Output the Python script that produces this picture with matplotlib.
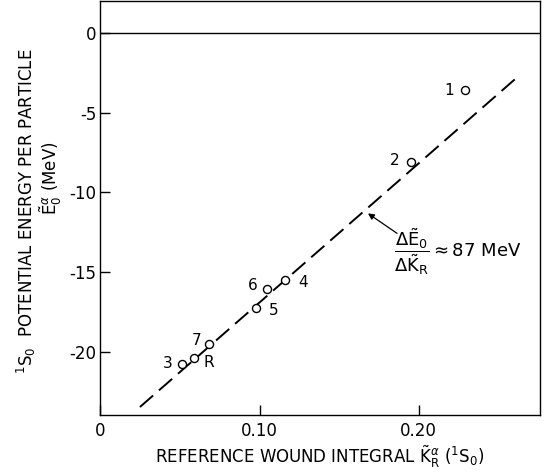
import matplotlib
matplotlib.use("Agg")
import matplotlib.pyplot as plt
from matplotlib.ticker import FixedLocator, FixedFormatter

plt.rcParams['font.family'] = ['DejaVu Sans']
plt.rcParams['mathtext.fontset'] = 'dejavusans'
plt.rcParams['axes.unicode_minus'] = False

# data
labels = ['1', '2', '4', '6', '5', '7', 'R', '3']
k_vals = [0.229, 0.195, 0.116, 0.105, 0.098, 0.068, 0.059, 0.051]
e_vals = [-3.6, -8.1, -15.5, -16.05, -17.25, -19.5, -20.4, -20.75]
label_offsets = [(-15, 0), (-16, 2), (18, -2), (-15, 4), (17, -2), (-12, 4), (15, -4), (-14, 1)]

fit_k = [0.0248, 0.2638]
fit_e = [-23.44, -2.63]

x_ticks = [0.0, 0.10, 0.20]
x_ticklabels = ['0', '0.10', '0.20']
y_ticks = [0, -5, -10, -15, -20]
y_ticklabels = ['0', '-5', '-10', '-15', '-20']

fig = plt.figure(figsize=(5.45, 4.74), dpi=100)
ax = fig.add_axes([0.1844, 0.1245, 0.8064, 0.8735])
ax.set_xlim(0, 0.2764)
ax.set_ylim(-23.94, 2.0)

ax.axhline(0, color='black', lw=1.0)
ax.plot(fit_k, fit_e, color='black', lw=1.4, dashes=(9, 4))
ax.plot(k_vals, e_vals, 'o', mfc='white', mec='black', ms=5.8, mew=1.0, zorder=3)
for lab, k, e, off in zip(labels, k_vals, e_vals, label_offsets):
    ax.annotate(lab, (k, e), xytext=off, textcoords='offset pixels',
                ha='center', va='center', fontsize=11)

ax.annotate('', xy=(0.1682, -11.31), xytext=(0.1865, -12.56),
            arrowprops=dict(arrowstyle='-|>', color='black', lw=0.9,
                            mutation_scale=9, shrinkA=0, shrinkB=0))
ax.text(0.1845, -13.7,
        r'$\dfrac{\Delta\tilde{\mathrm{E}}_{0}}{\Delta\tilde{\mathrm{K}}_{\mathrm{R}}}\approx 87\ \mathrm{MeV}$',
        ha='left', va='center', fontsize=13, clip_on=False)

ax.xaxis.set_major_locator(FixedLocator(x_ticks))
ax.xaxis.set_major_formatter(FixedFormatter(x_ticklabels))
ax.yaxis.set_major_locator(FixedLocator(y_ticks))
ax.yaxis.set_major_formatter(FixedFormatter(y_ticklabels))
ax.tick_params(direction='in', length=7, width=1.0, labelsize=12, pad=3)
ax.tick_params(axis='x', pad=5)
for s in ax.spines.values():
    s.set_linewidth(1.0)

ax.set_xlabel(r'REFERENCE WOUND INTEGRAL $\tilde{\mathrm{K}}_{\mathrm{R}}^{\alpha}$ ($^{1}\mathrm{S}_{0}$)',
              fontsize=12, labelpad=3)
fig.text(0.048, 0.555, r'$^{1}\mathrm{S}_{0}$  POTENTIAL ENERGY PER PARTICLE',
         rotation=90, ha='center', va='center', fontsize=12)
fig.text(0.094, 0.625, r'$\tilde{\mathrm{E}}_{0}^{\alpha}$ (MeV)',
         rotation=90, ha='center', va='center', fontsize=12)

fig.savefig('out.png', dpi=100)
